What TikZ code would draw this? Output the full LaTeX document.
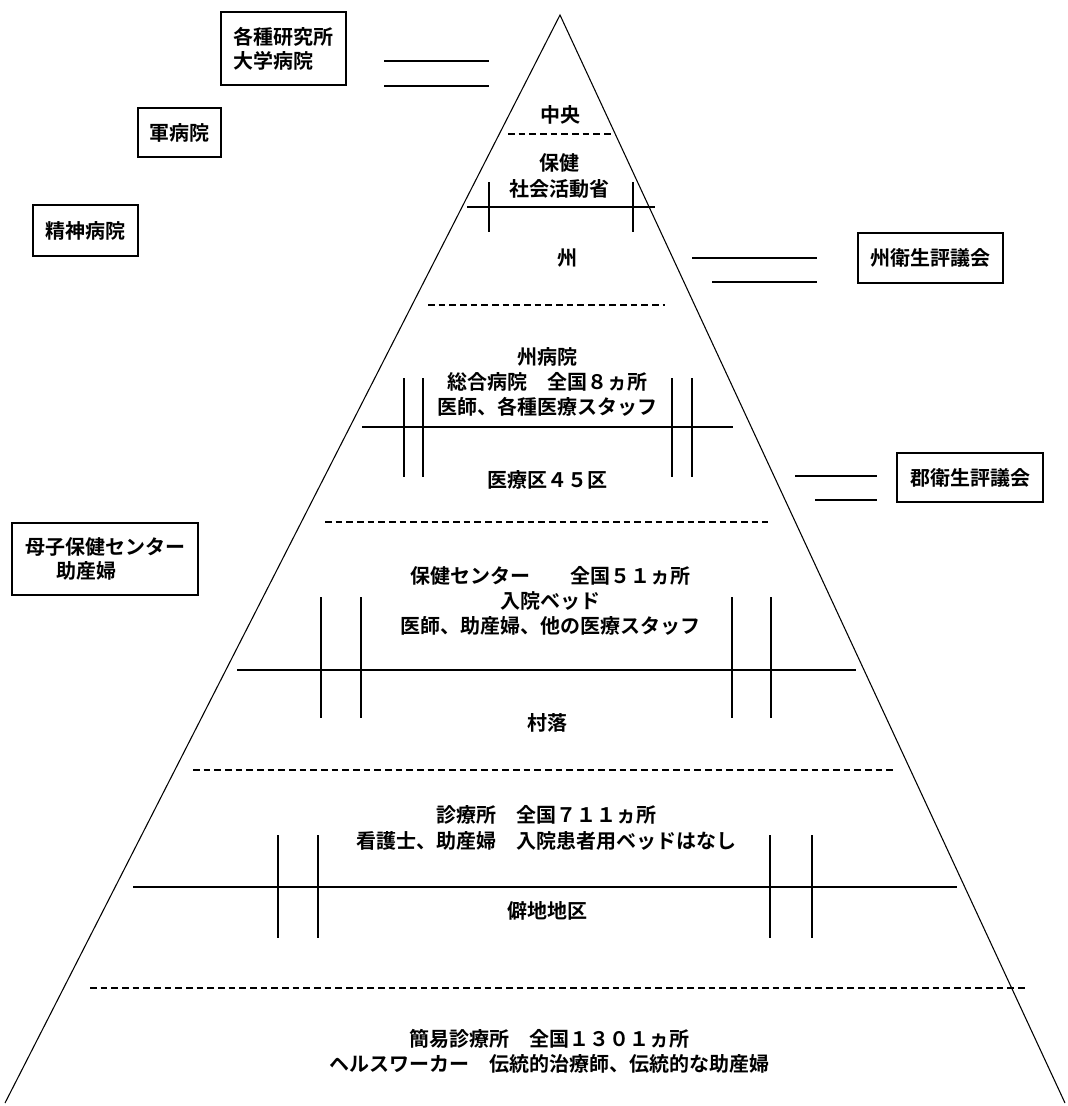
\documentclass[tikz,border=0pt]{standalone}
\usepackage{fontspec}
\setmainfont{Noto Sans CJK JP}[BoldFont={Noto Sans CJK JP Bold}]
\begin{document}
\begin{tikzpicture}[x=0.75pt,y=-0.75pt,
  side/.style={line width=0.8pt},
  rule/.style={line width=1.1pt},
  tick/.style={line width=1.1pt},
  tier/.style={line width=1pt,dash pattern=on 5pt off 3pt},
  link/.style={line width=1.2pt},
  label/.style={inner sep=0pt,align=center,font=\fontsize{15}{19}\selectfont\bfseries},
  box/.style={draw,line width=1.2pt,inner sep=0pt,align=left,font=\fontsize{15}{18}\selectfont\bfseries}]
\useasboundingbox (0,0) rectangle (1067,1106);

% pyramid outline
\coordinate (apex) at (560,15);
\coordinate (bl) at (5,1103);
\coordinate (br) at (1065,1103);
\draw[side] (bl) -- (apex) -- (br);

% tier separators
\draw[tier] (508,134) coordinate (d1a) -- (612,134) coordinate (d1b);
\draw[tier] (428,305) coordinate (d2a) -- (665,305) coordinate (d2b);
\draw[tier] (325,522) coordinate (d3a) -- (768,522) coordinate (d3b);
\draw[tier] (193,770) coordinate (d4a) -- (893,770) coordinate (d4b);
\draw[tier] (90,988) coordinate (d5a) -- (1025,988) coordinate (d5b);

% rails with crossing ticks
\draw[rule] (467,207) coordinate (r1a) -- (655,207) coordinate (r1b);
\foreach \x in {489,633} \draw[tick] (\x,182) -- (\x,232);
\draw[rule] (362,427) coordinate (r2a) -- (733,427) coordinate (r2b);
\foreach \x in {404,423,672,692} \draw[tick] (\x,378) -- (\x,477);
\draw[rule] (237,670) coordinate (r3a) -- (856,670) coordinate (r3b);
\foreach \x in {321,361,732,771} \draw[tick] (\x,597) -- (\x,718);
\draw[rule] (133,887) coordinate (r4a) -- (957,887) coordinate (r4b);
\foreach \x in {278,318,770,812} \draw[tick] (\x,835) -- (\x,938);

% labels inside the pyramid
\node[label] (central) at (560,115) {中央};
\node[label] (ministry) at (559,176) {保健\\社会活動省};
\node[label] (state) at (567,258) {州};
\node[label] (statehosp) at (547,382) {州病院\\総合病院　全国８ヵ所\\医師、各種医療スタッフ};
\node[label] (district) at (547,480) {医療区４５区};
\node[label] (healthctr) at (550,601) {保健センター　　全国５１ヵ所\\入院ベッド\\医師、助産婦、他の医療スタッフ};
\node[label] (village) at (547,723) {村落};
\node[label] (clinic) at (546,828) {診療所　全国７１１ヵ所\\看護士、助産婦　入院患者用ベッドはなし};
\node[label] (remote) at (547,911) {僻地地区};
\node[label] (post) at (549,1051) {簡易診療所　全国１３０１ヵ所\\ヘルスワーカー　伝統的治療師、伝統的な助産婦};

% boxes outside the pyramid
\node[box,minimum width=93.75pt,minimum height=54.75pt] (research) at (283.5,48.5) {各種研究所\\大学病院};
\node[box,minimum width=62.25pt,minimum height=36.75pt] (military) at (179.5,132.5) {軍病院};
\node[box,minimum width=78.75pt,minimum height=38.25pt] (mental) at (85.5,230.5) {精神病院};
\node[box,minimum width=108.75pt,minimum height=37.5pt] (statecouncil) at (930.5,258) {州衛生評議会};
\node[box,minimum width=109.5pt,minimum height=36.75pt] (countycouncil) at (970,477.5) {郡衛生評議会};
\node[box,minimum width=139.5pt,minimum height=54pt] (mch) at (105,559) {母子保健センター\\\hspace*{24pt}助産婦};

% double links
\coordinate (t1a) at (384,61);  \coordinate (t1b) at (489,61);
\coordinate (t2a) at (384,86);  \coordinate (t2b) at (489,86);
\draw[link] (t1a) -- (t1b);
\draw[link] (t2a) -- (t2b);
\coordinate (s1a) at (692,258); \coordinate (s1b) at (817,258);
\coordinate (s2a) at (712,282); \coordinate (s2b) at (817,282);
\draw[link] (s1a) -- (s1b);
\draw[link] (s2a) -- (s2b);
\coordinate (c1a) at (795,476); \coordinate (c1b) at (877,476);
\coordinate (c2a) at (815,500); \coordinate (c2b) at (877,500);
\draw[link] (c1a) -- (c1b);
\draw[link] (c2a) -- (c2b);
\end{tikzpicture}
\end{document}
